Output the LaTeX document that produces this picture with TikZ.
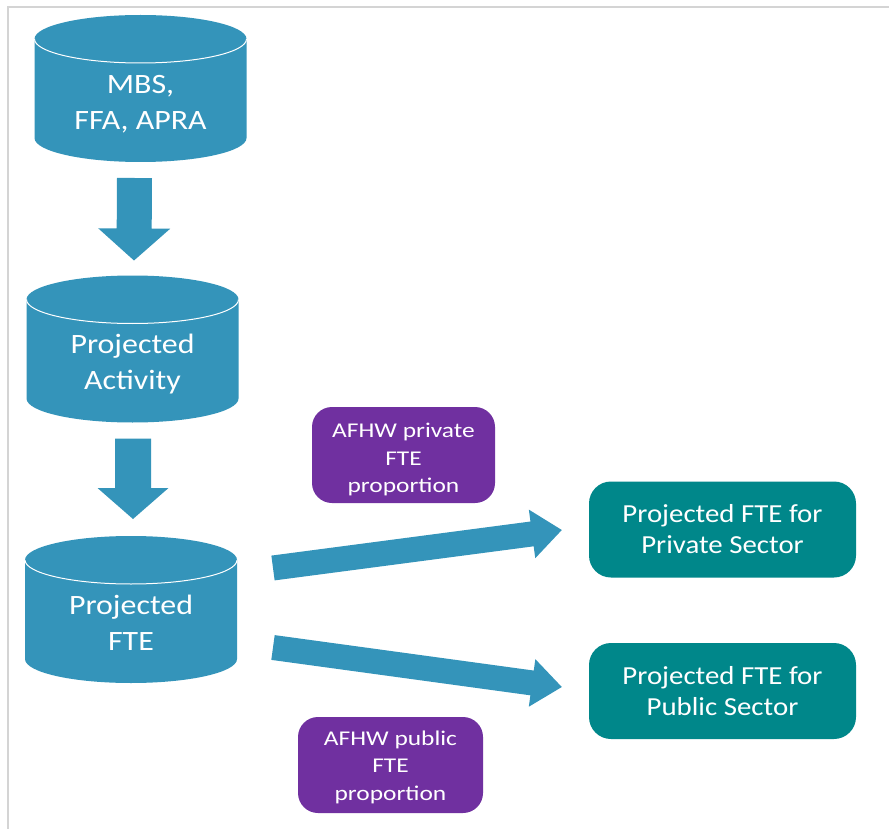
\documentclass[tikz,border=0pt]{standalone}
\usepackage{fontspec}
\setmainfont{Carlito}
\newfontfamily\cylfont[FakeStretch=1.14]{Carlito}
\newfontfamily\tealfont[FakeStretch=1.11]{Carlito}
\newfontfamily\purpfont[FakeStretch=1.21]{Carlito}
\usetikzlibrary{calc}
\definecolor{cylblue}{HTML}{3494BA}
\definecolor{purp}{HTML}{7030A0}
\definecolor{tealbox}{HTML}{00878A}
\definecolor{framegray}{HTML}{D4D4D4}
\newcommand{\drawcyl}[1]{%
  \fill[cylblue] ($(#1.north west)+(0,-24)$) arc[start angle=180,end angle=0,x radius=106,y radius=24]
    -- ($(#1.south east)+(0,24)$) arc[start angle=0,end angle=-180,x radius=106,y radius=24] -- cycle;
  \draw[white, line width=1pt] ($(#1.north west)+(0,-24)$) arc[start angle=180,end angle=360,x radius=106,y radius=24];
}
\newcommand{\blockarrow}[6]{% start, end, half width, half head width, head length, name
  \coordinate (#6h) at ($(#2)!#5!(#1)$);
  \fill[cylblue] ($(#1)!#3!90:(#2)$) -- ($(#6h)!#3!90:(#2)$) -- ($(#6h)!#4!90:(#2)$) -- (#2)
    -- ($(#6h)!#4!-90:(#2)$) -- ($(#6h)!#3!-90:(#2)$) -- ($(#1)!#3!-90:(#2)$) -- cycle;
}
\begin{document}
\begin{tikzpicture}[x=1pt,y=1pt,
  cylnode/.style={minimum width=212pt, minimum height=147pt, inner sep=0pt, outer sep=0pt},
  cyltext/.style={text=white, align=center, font=\cylfont\fontsize{28}{36}\selectfont, inner sep=0pt},
  purpbox/.style={fill=purp, rounded corners=20pt, minimum height=96pt, inner sep=0pt},
  purptext/.style={text=white, align=center, font=\purpfont\fontsize{21}{27.5}\selectfont, inner sep=0pt},
  resultbox/.style={fill=tealbox, rounded corners=22pt, minimum width=267pt, minimum height=96pt,
    text=white, align=center, font=\tealfont\fontsize{26}{31}\selectfont, inner sep=0pt},
]
\useasboundingbox (0,0) rectangle (889,-829);
\fill[white] (0,0) rectangle (889,-829);
\draw[framegray, line width=2pt] (8,-829) -- (8,-7) -- (889,-7);

% cylinders
\node[cylnode] (c1) at (140.5,-88.5) {};
\node[cylnode] (c2) at (132.5,-349) {};
\node[cylnode] (c3) at (131,-609.5) {};
\drawcyl{c1}
\drawcyl{c2}
\drawcyl{c3}
\node[cyltext] (t1) at ($(c1.center)+(0,-16)$) {MBS,\\FFA, APRA};
\node[cyltext] (t2) at ($(c2.center)+(0,-15)$) {Projected\\Activity};
\node[cyltext] (t3) at ($(c3.center)+(0,-13.5)$) {Projected\\FTE};

% purple and teal boxes
\node[purpbox, minimum width=183pt] (pp1) at (403.5,-455) {};
\node[purptext] (pp1t) at ($(pp1.center)+(0,-4.5)$) {AFHW private\\FTE\\proportion};
\node[purpbox, minimum width=185pt] (pp2) at (390.5,-765) {};
\node[purptext] (pp2t) at ($(pp2.center)+(0,-2)$) {AFHW public\\FTE\\proportion};
\node[resultbox] (p1) at (722.5,-529.5) {Projected FTE for\\Private Sector};
\node[resultbox] (p2) at (722.5,-691) {Projected FTE for\\Public Sector};

% arrows
\coordinate (a1s) at ($(c1.south)+(-6,-16)$);
\coordinate (a1e) at ($(c2.north)+(1.5,15)$);
\coordinate (a2s) at ($(c2.south)+(0.5,-16)$);
\coordinate (a2e) at ($(c3.north)+(2,17)$);
\coordinate (a3s) at ($(c3.east)+(36,41.5)$);
\coordinate (a3e) at ($(p1.west)+(-27,-0.5)$);
\coordinate (a4s) at ($(c3.east)+(36,-38)$);
\coordinate (a4e) at ($(p2.west)+(-27,4)$);
\blockarrow{a1s}{a1e}{17.5pt}{36pt}{32pt}{b1}
\blockarrow{a2s}{a2e}{18pt}{35.5pt}{31pt}{b2}
\blockarrow{a3s}{a3e}{12.5pt}{24.5pt}{30pt}{b3}
\blockarrow{a4s}{a4e}{12.5pt}{24pt}{30pt}{b4}
\end{tikzpicture}
\end{document}
